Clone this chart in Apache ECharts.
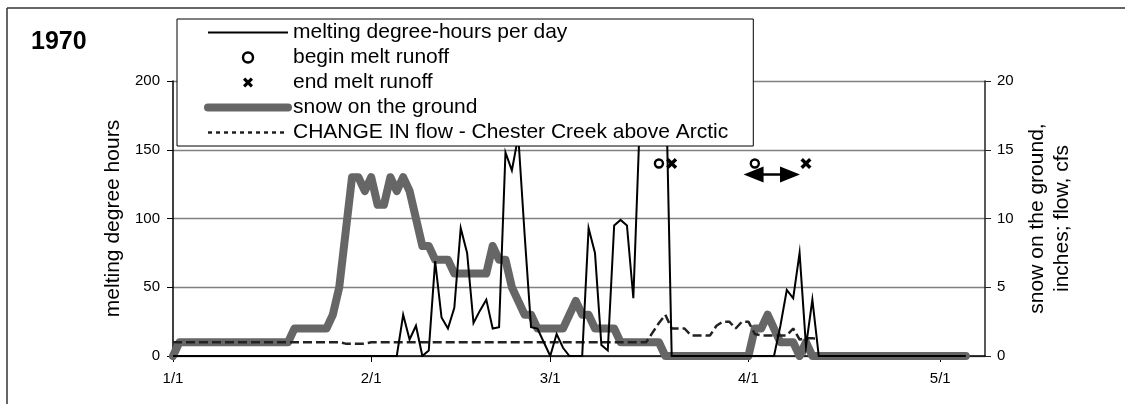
<!DOCTYPE html>
<html><head><meta charset="utf-8">
<script src="https://cdn.jsdelivr.net/npm/echarts@6/dist/echarts.min.js"></script>
<style>html,body{margin:0;padding:0;background:#fff;}#c{width:1125px;height:404px;}</style>
</head><body><div id="c"></div>
<script>
// day index 0 = 1/1 (1970)
const tickDays = [0, 31, 59, 90, 120];
const tickLabels = ['1/1', '2/1', '3/1', '4/1', '5/1'];

// melting degree-hours per day (left axis)
const melting = [
  0,0,0,0,0,0,0,0,0,0, 0,0,0,0,0,0,0,0,0,0, 0,0,0,0,0,0,0,0,0,0, 0,0,0,0,0,0,
  30,12,22,0,4,69,28,20,35,93,75,24,33,41,20,21,148,135,160,88,21,20,10,0,16,6,0,0,0,93,75,8,4,95,99,95,42,170,230,250,240,220,0,
  0,0,0,0,0,0,0,0,0,0,0,0,0,0,0,0,
  22,48,42,75,7,41,0,
  0,0,0,0,0,0,0,0,0,0,0,0,0,0,0,0,0,0,0,0,0,0,0
];
// snow on the ground, inches (right axis)
const snow = [
  0,
  1,1,1,1,1,1,1,1,1,1,1,1,1,1,1,1,1,1,
  2,2,2,2,2,2,
  3,5,9,13,13,12,13,11,11,13,12,13,12,10,8,8,7,7,7,6,6,6,6,6,6,8,7,7,5,4,3,3,
  2,2,2,2,2,
  3,4,3,3,2,2,2,2,
  1,1,1,1,1,1,1,
  0,0,0,0,0,0,0,0,0,0,0,0,0,0,
  2,2,3,2,1,1,1,0,1,
  0,0,0,0,0,0,0,0,0,0,0,0,0,0,0,0,0,0,0,0,0,0,0,0,0
];
// CHANGE IN flow - Chester Creek above Arctic, cfs (right axis)
const flow = [
  1,1,1,1,1,1,1,1,1,1,1,1,1,1,1,1,1,1,1,1,1,1,1,1,1,1,1,
  0.9,0.9,0.9,0.9,
  1,1,1,1,1,1,1,1,1,1,1,1,1,1,1,1,1,1,1,1,1,1,1,1,1,1,1,1,1,1,1,1,1,1,1,1,1,1,1,1,1,1,1,1,
  1.7,2.4,3,2,2,2,1.5,1.5,1.5,1.5,2.2,2.5,2.5,2,2.5,2.5,1.6,1.5,1.5,1.5,1.5,1.5,2,1.2,1.3,1.3,1.2
];
// runoff markers [day, degree-hours level]
const beginMelt = [[76, 140], [91, 140]];
const endMelt = [[78, 140], [99, 140]];
// double-headed arrow annotation [day, level]
const arrowSpan = [[90.8, 132], [96.5, 132]];

const FONT = "'Liberation Sans', Arial, sans-serif";
const X_PATH = 'path://M0,2.2L2.2,0L5,2.8L7.8,0L10,2.2L7.2,5L10,7.8L7.8,10L5,7.2L2.2,10L0,7.8L2.8,5Z';
const toPairs = arr => arr.map((v, i) => [i, v]);

const names = {
  melt: 'melting degree-hours per day',
  begin: 'begin melt runoff',
  end: 'end melt runoff',
  snow: 'snow on the ground',
  flow: 'CHANGE IN flow - Chester Creek above Arctic'
};

const chart = echarts.init(document.getElementById('c'), null, {renderer: 'canvas'});
chart.setOption({
  animation: false,
  backgroundColor: '#fff',
  textStyle: {fontFamily: FONT, color: '#000'},
  title: {text: '1970', left: 31, top: 30, padding: 0,
    textStyle: {fontSize: 25, fontWeight: 'bold', color: '#000', fontFamily: FONT}},
  graphic: [
    {type: 'line', shape: {x1: 7, y1: 8, x2: 1125, y2: 8}, style: {stroke: '#333', lineWidth: 1.5}, z: 0},
    {type: 'line', shape: {x1: 7, y1: 8, x2: 7, y2: 404}, style: {stroke: '#333', lineWidth: 1.5}, z: 0}
  ],
  legend: {
    z: 20,
    left: 177, top: 19, orient: 'vertical',
    backgroundColor: '#fff', borderColor: '#000', borderWidth: 1,
    padding: [1, 25, 1, 27],
    itemWidth: 80, itemHeight: 10, itemGap: 0, itemTextGap: 6,
    selectedMode: false,
    textStyle: {fontSize: 21, lineHeight: 25, color: '#000', fontFamily: FONT},
    data: [
      {name: names.melt, itemStyle: {opacity: 0}, lineStyle: {width: 2, color: '#000', type: 'solid'}},
      {name: names.begin, itemStyle: {color: '#fff', borderColor: '#000', borderWidth: 2.4}},
      {name: names.end, itemStyle: {color: '#000', borderWidth: 0}},
      {name: names.snow, itemStyle: {opacity: 0}, lineStyle: {width: 8, color: '#666', cap: 'round', type: 'solid'}},
      {name: names.flow, itemStyle: {opacity: 0}, lineStyle: {width: 2.4, color: '#222', type: [4, 4]}}
    ]
  },
  grid: {left: 173, right: 140, top: 81, bottom: 48, outerBoundsMode: 'none', containLabel: false},
  xAxis: {
    type: 'value', min: 0, max: 127,
    splitLine: {show: false},
    axisLine: {show: true, onZero: false, lineStyle: {color: '#000', width: 1.5}},
    axisTick: {show: true, customValues: tickDays, length: 6, lineStyle: {color: '#000', width: 1}},
    axisLabel: {customValues: tickDays, margin: 15, fontSize: 15, color: '#000', fontFamily: FONT,
      formatter: v => tickLabels[tickDays.indexOf(v)] || ''}
  },
  yAxis: [
    {
      type: 'value', min: 0, max: 200, interval: 50, position: 'left',
      name: 'melting degree hours', nameLocation: 'middle', nameRotate: 90, nameGap: 49,
      nameTextStyle: {fontSize: 21, color: '#000', fontFamily: FONT},
      axisLine: {show: true, lineStyle: {color: '#000', width: 1.5}},
      axisTick: {show: true, length: 6, lineStyle: {color: '#000'}},
      axisLabel: {margin: 13, fontSize: 15, color: '#000', fontFamily: FONT},
      splitLine: {show: true, lineStyle: {color: '#808080', width: 1.3}}
    },
    {
      type: 'value', min: 0, max: 20, interval: 5, position: 'right',
      name: 'snow on the ground,\ninches; flow, cfs', nameLocation: 'middle', nameRotate: 90, nameGap: 38,
      nameTextStyle: {fontSize: 21, lineHeight: 25, color: '#000', fontFamily: FONT},
      axisLine: {show: true, lineStyle: {color: '#222', width: 1.5}},
      axisTick: {show: true, length: 6, lineStyle: {color: '#222'}},
      axisLabel: {margin: 12, fontSize: 15, color: '#000', fontFamily: FONT},
      splitLine: {show: false}
    }
  ],
  series: [
    {
      name: names.snow, type: 'line', yAxisIndex: 1, data: toPairs(snow),
      symbol: 'none', color: '#666',
      lineStyle: {color: '#666', width: 8, cap: 'round', join: 'round'}, z: 2
    },
    {
      name: names.flow, type: 'line', yAxisIndex: 1, data: toPairs(flow),
      symbol: 'none', color: '#222',
      lineStyle: {color: '#222', width: 2.5, type: [9, 4]}, z: 3
    },
    {
      name: names.melt, type: 'line', yAxisIndex: 0, data: toPairs(melting),
      symbol: 'none', color: '#000',
      lineStyle: {color: '#000', width: 2, join: 'miter'}, z: 4,
      markLine: {
        silent: true, animation: false,
        symbol: ['triangle', 'triangle'], symbolSize: [16, 20],
        label: {show: false},
        lineStyle: {color: '#000', width: 2.5, type: 'solid'},
        itemStyle: {color: '#000'},
        data: [[{coord: arrowSpan[0]}, {coord: arrowSpan[1]}]]
      }
    },
    {
      name: names.begin, type: 'scatter', yAxisIndex: 0, data: beginMelt,
      symbol: 'circle', symbolSize: 8, color: '#000',
      itemStyle: {color: '#fff', borderColor: '#000', borderWidth: 2.4, opacity: 1}, z: 5
    },
    {
      name: names.end, type: 'scatter', yAxisIndex: 0, data: endMelt,
      symbol: X_PATH, symbolSize: 11, color: '#000',
      itemStyle: {color: '#000', opacity: 1}, z: 5
    }
  ]
});
</script>
</body></html>
